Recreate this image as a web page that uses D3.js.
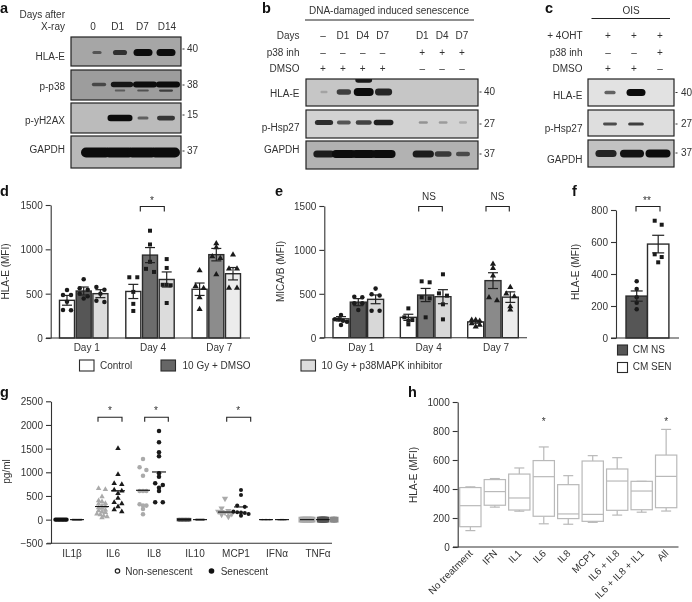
<!DOCTYPE html>
<html>
<head>
<meta charset="utf-8">
<script src="https://cdn.jsdelivr.net/npm/d3@7"></script>
<style>
  html, body { margin: 0; padding: 0; background: #fff; }
  svg { display: block; filter: blur(0.35px); }
  text { font-family: "Liberation Sans", Arial, sans-serif; font-size: 10px; fill: #333; }
</style>
</head>
<body>
<svg id="fig" width="692" height="602"></svg>
<script>
// western blots: band strength per lane, 0 = nothing visible
const blot_a_lanes = ["0", "D1", "D7", "D14"];
const blot_a_hla = [0.3, 0.65, 1, 1];
const blot_a_p38 = [0.4, 0.9, 1, 1];
const blot_a_p38_low = [0, 0.2, 0.3, 0.5];
const blot_a_h2ax = [0, 1, 0.3, 0.65];
const blot_a_gapdh = [1, 1, 1, 1];

const blot_b_days = ["–", "D1", "D4", "D7", "", "D1", "D4", "D7"];
const blot_b_inh = ["–", "–", "–", "–", "", "+", "+", "+"];
const blot_b_dmso = ["+", "+", "+", "+", "", "–", "–", "–"];
const blot_b_hla = [0.08, 0.6, 1, 0.8, 0, 0, 0, 0];
const blot_b_hla_top = [0, 0, 0.9, 0, 0, 0, 0, 0];
const blot_b_hsp = [0.75, 0.45, 0.6, 0.85, 0, 0.14, 0.12, 0.08];
const blot_b_gapdh = [0.85, 1, 1, 1, 0, 0.85, 0.6, 0.45];

const blot_c_oht = ["+", "+", "+"];
const blot_c_inh = ["–", "–", "+"];
const blot_c_dmso = ["+", "+", "–"];
const blot_c_hla = [0.4, 1, 0];
const blot_c_hsp = [0.55, 0.65, 0];
const blot_c_gapdh = [0.8, 0.95, 1];

// panel d
const days = ["Day 1", "Day 4", "Day 7"];
const treatments = ["Control", "10 Gy + DMSO", "10 Gy + p38MAPK inhibitor"];
const d_means = [[425, 530, 500], [525, 935, 660], [550, 940, 725]];
const d_sem = [[55, 45, 45], [80, 85, 85], [70, 70, 70]];
const d_points = [
  [[541, 485, 485, 410, 316, 312], [662, 545, 560, 500, 470, 445], [575, 545, 500, 405, 420]],
  [[685, 685, 520, 385, 305], [1210, 1055, 860, 745, 780], [890, 790, 600, 600, 595, 395]],
  [[760, 585, 560, 458, 325], [1020, 1065, 920, 900, 715], [940, 780, 780, 565, 565]]
];
const d_fill = [["#fff", "#565656", "#dcdcdc"], ["#fff", "#6c6c6c", "#dcdcdc"], ["#fff", "#8c8c8c", "#ececec"]];

// panel e
const e_means = [[215, 405, 437], [232, 486, 467], [180, 650, 462]];
const e_sem = [[25, 40, 50], [35, 75, 80], [15, 90, 60]];
const e_points = [
  [[258, 209, 209, 194, 182, 144], [467, 460, 391, 391, 315], [559, 494, 308, 308, 480]],
  [[334, 232, 201, 194, 152], [642, 631, 460, 448, 232], [722, 505, 479, 380, 209]],
  [[201, 201, 190, 163, 144, 125], [840, 790, 705, 458, 425], [575, 500, 470, 356, 318]]
];
const e_fill = [["#fff", "#565656", "#d8d8d8"], ["#fff", "#777", "#d8d8d8"], ["#fff", "#8a8a8a", "#ececec"]];

// panel f
const f_groups = ["CM NS", "CM SEN"];
const f_means = [262, 587];
const f_sem = [32, 55];
const f_points = [[354, 306, 254, 221, 179], [733, 708, 523, 506, 473]];

// panel g
const g_cats = ["IL1β", "IL6", "IL8", "IL10", "MCP1", "IFNα", "TNFα"];
const g_non = [
  [0, 0, 0, 0, 0, 0, 0, 0, 0],
  [662, 640, 486, 401, 380, 345, 330, 290, 280, 255, 240, 205, 190, 165, 150, 120, 105, 80, 65, 40],
  [1281, 1105, 1049, 929, 605, 605, 605, 324, 296, 296, 225, 113],
  [0, 0, 0, 0, 0, 0, 0, 0, 0],
  [443, 239, 185, 170, 165, 150, 140, 120, 105, 60],
  [0, 0, 0, 0, 0, 0, 0, 0],
  [0, 0, 0, 0, 0, 0, 0, 0, 0]
];
const g_sen = [
  [0, 0, 0, 0, 0, 0, 0, 0, 0],
  [1507, 957, 767, 746, 627, 605, 556, 451, 366, 338, 275, 211, 169],
  [1873, 1633, 1422, 1338, 978, 908, 767, 732, 676, 605, 366, 366],
  [0, 0, 0, 0, 0, 0, 0, 0],
  [627, 521, 296, 270, 169, 155, 150, 140, 120, 84],
  [0, 0, 0, 0, 0, 0, 0, 0],
  [0, 0, 0, 0, 0, 0, 0]
];
const g_non_mid = [0, 277, 620, 0, 160, 0, 0];
const g_sen_mid = [0, 610, 1007, 0, 268, 0, 0];
const tnf_extra = [0, 0, 0];

// panel h
const h_cats = ["No treatment", "IFN", "IL1", "IL6", "IL8", "MCP1", "IL6 + IL8", "IL6 + IL8 + IL1", "All"];
const h_low = [113, 275, 247, 160, 157, 170, 220, 240, 248];
const h_q1 = [140, 288, 255, 212, 196, 177, 253, 257, 271];
const h_med = [285, 382, 338, 485, 228, 225, 455, 386, 487];
const h_q3 = [410, 465, 503, 596, 430, 593, 538, 453, 634];
const h_high = [415, 472, 545, 690, 492, 630, 616, 453, 811];

const ink = "#333";
const svg = d3.select("#fig");

// blur used for the blot bands
svg.append("defs").append("filter")
  .attr("id", "soft")
  .attr("x", "-30%").attr("y", "-80%").attr("width", "160%").attr("height", "260%")
  .append("feGaussianBlur").attr("stdDev", 1);

function label(x, y, str, anchor, size, weight) {
  return svg.append("text")
    .attr("x", x).attr("y", y)
    .attr("text-anchor", anchor || "start")
    .style("font-size", (size || 10) + "px")
    .style("font-weight", weight || "normal")
    .text(str);
}

// panel letters
[["a", 0, 13], ["b", 262, 13], ["c", 545, 13], ["d", 0, 196], ["e", 275, 196], ["f", 572, 196], ["g", 0, 397], ["h", 408, 397]]
  .forEach(l => label(l[1], l[2], l[0], "start", 14.5, "bold").style("fill", "#111"));

let clip_id = 0;
// one blot strip, rows = [{vals, cy, w0, w1, h0, h1}]
function blot(x0, x1, y0, y1, bg, laneX, rows, name, nameY, nameX, kda, kdaY, kdaX) {
  const id = "clip" + (clip_id++);
  svg.select("defs").append("clipPath").attr("id", id)
    .append("rect").attr("x", x0).attr("y", y0).attr("width", x1 - x0).attr("height", y1 - y0);
  svg.append("rect").attr("x", x0).attr("y", y0).attr("width", x1 - x0).attr("height", y1 - y0).attr("fill", bg);
  const g = svg.append("g").attr("clip-path", "url(#" + id + ")");
  const op = d3.scaleLinear().domain([0, 0.2, 1]).range([0, 0.45, 1]);
  rows.forEach(r => {
    const bw = d3.scaleLinear().domain([0, 1]).range([r.w0, r.w1]);
    const bh = d3.scaleLinear().domain([0, 1]).range([r.h0, r.h1]);
    const lanes = r.vals.map((v, i) => ({v: v, i: i})).filter(d => d.v > 0);
    g.selectAll(null).data(lanes).enter().append("rect")
      .attr("x", d => laneX(d.i) - bw(d.v) / 2 + (r.dx || 0))
      .attr("y", d => r.cy - bh(d.v) / 2)
      .attr("width", d => bw(d.v))
      .attr("height", d => bh(d.v))
      .attr("rx", d => bh(d.v) / 2)
      .attr("fill", "#0c0c0c")
      .attr("opacity", d => op(d.v))
      .attr("filter", "url(#soft)");
  });
  svg.append("rect").attr("x", x0).attr("y", y0).attr("width", x1 - x0).attr("height", y1 - y0)
    .attr("fill", "none").attr("stroke", "#222").attr("stroke-width", 1.2);
  label(nameX, nameY, name, "end");
  svg.append("line").attr("x1", x1 + 1.5).attr("x2", x1 + 3.5).attr("y1", kdaY - 3).attr("y2", kdaY - 3).attr("stroke", ink);
  label(kdaX, kdaY, kda);
}

// --- a
const lane_a = d3.scalePoint().domain(d3.range(4)).range([97, 166]);
const lane_a_text = d3.scalePoint().domain(blot_a_lanes).range([93, 167]);
label(65, 17.5, "Days after", "end");
label(65, 30, "X-ray", "end");
blot_a_lanes.forEach(d => label(lane_a_text(d), 30, d, "middle"));
blot(71, 181, 37, 66, "#a6a6a6", lane_a, [{vals: blot_a_hla, cy: 52.5, w0: 5, w1: 19, h0: 1.5, h1: 7}], "HLA-E", 60, 65, "40", 52, 187);
blot(71, 181, 70, 100, "#9d9d9d", lane_a, [
  {vals: blot_a_p38, cy: 84.5, w0: 8, w1: 24, h0: 2, h1: 6, dx: 2},
  {vals: blot_a_p38_low, cy: 90.5, w0: 8, w1: 20, h0: 1.5, h1: 3}
], "p-p38", 90, 65, "38", 88, 187);
blot(71, 181, 103, 133, "#bbb", lane_a, [{vals: blot_a_h2ax, cy: 118, w0: 5, w1: 25, h0: 1.5, h1: 6.5}], "p-yH2AX", 124, 65, "15", 118, 187);
blot(71, 181, 136, 168, "#b8b8b8", lane_a, [{vals: blot_a_gapdh, cy: 152.5, w0: 10, w1: 30, h0: 3, h1: 10, dx: -1}], "GAPDH", 153, 65, "37", 154, 187);

// --- b
const lane_b = d3.scalePoint().domain(d3.range(8)).range([323, 462]);
label(389, 14, "DNA-damaged induced senescence", "middle");
svg.append("line").attr("x1", 305).attr("x2", 474).attr("y1", 20).attr("y2", 20).attr("stroke", "#222").attr("stroke-width", 1.2);
[["Days", blot_b_days, 38.5], ["p38 inh", blot_b_inh, 55.5], ["DMSO", blot_b_dmso, 71.5]].forEach(r => {
  label(299.5, r[2], r[0], "end");
  r[1].forEach((t, i) => label(lane_b(i), r[2], t, "middle"));
});
blot(306, 478, 79, 106, "#c6c6c6", lane_b, [
  {vals: blot_b_hla, cy: 92, w0: 6, w1: 20, h0: 2, h1: 8, dx: 1},
  {vals: blot_b_hla_top, cy: 80, w0: 6, w1: 18, h0: 2, h1: 6, dx: 1}
], "HLA-E", 97, 299.5, "40", 95, 484);
blot(306, 478, 110, 138, "#d2d2d2", lane_b, [{vals: blot_b_hsp, cy: 122.5, w0: 7, w1: 22, h0: 2, h1: 6, dx: 1}], "p-Hsp27", 131, 299.5, "27", 127, 484);
blot(306, 478, 141, 169, "#b2b2b2", lane_b, [{vals: blot_b_gapdh, cy: 154, w0: 6, w1: 24, h0: 2, h1: 8, dx: 1}], "GAPDH", 153, 299.5, "37", 157, 484);

// --- c
const lane_c = d3.scalePoint().domain(d3.range(3)).range([608, 660]);
label(631, 14, "OIS", "middle");
svg.append("line").attr("x1", 591.5).attr("x2", 670).attr("y1", 18.5).attr("y2", 18.5).attr("stroke", "#222").attr("stroke-width", 1.2);
[["+ 4OHT", blot_c_oht, 38.5], ["p38 inh", blot_c_inh, 55.5], ["DMSO", blot_c_dmso, 71.5]].forEach(r => {
  label(582.5, r[2], r[0], "end");
  r[1].forEach((t, i) => label(lane_c(i), r[2], t, "middle"));
});
blot(588, 674, 79, 106, "#e2e2e2", lane_c, [{vals: blot_c_hla, cy: 92.5, w0: 6, w1: 19, h0: 1.5, h1: 7, dx: 2}], "HLA-E", 98.5, 582.5, "40", 95.5, 681);
blot(588, 674, 110, 136, "#dedede", lane_c, [{vals: blot_c_hsp, cy: 124, w0: 4, w1: 22, h0: 1.5, h1: 4, dx: 2}], "p-Hsp27", 131.5, 582.5, "27", 127, 681);
blot(588, 674, 140, 167, "#c2c2c2", lane_c, [{vals: blot_c_gapdh, cy: 153.5, w0: 6, w1: 25, h0: 3, h1: 8, dx: -2}], "GAPDH", 162.5, 582.5, "37", 156, 681);

// --- shared chart bits
function yAxis(x, y, ticks) {
  const g = svg.append("g").attr("transform", "translate(" + x + ",0)")
    .call(d3.axisLeft(y).tickValues(ticks).tickSize(5).tickSizeOuter(0).tickFormat(d3.format("d")));
  g.select(".domain").attr("stroke", ink).attr("stroke-width", 1.1);
  g.selectAll(".tick line").attr("stroke", ink).attr("stroke-width", 1.1);
  g.selectAll(".tick text").attr("x", -8).attr("dy", "0.34em").style("font-family", null).style("font-size", "10px");
  g.attr("font-family", null).attr("font-size", null);
  return g;
}
function xLine(x0, x1, y) {
  svg.append("line").attr("x1", x0).attr("x2", x1).attr("y1", y).attr("y2", y).attr("stroke", ink).attr("stroke-width", 1.1);
}
function yTitle(x, y, str) {
  label(0, 0, str, "middle").attr("transform", "translate(" + x + "," + y + ") rotate(-90)");
}
function bracket(x0, x1, top, leg) {
  svg.append("path")
    .attr("d", "M" + x0 + "," + (top + leg) + "V" + top + "H" + x1 + "V" + (top + leg))
    .attr("fill", "none").attr("stroke", "#222").attr("stroke-width", 1.1);
}
// prism style strip: points of about equal value sit side by side
function strip(vals, thr, h) {
  const sorted = vals.slice().sort((a, b) => b - a);
  const out = [];
  let i = 0;
  while (i < sorted.length) {
    let j = i;
    while (j + 1 < sorted.length && sorted[i] - sorted[j + 1] <= thr) j++;
    const n = j - i + 1;
    const s = n === 2 ? 2 * h : h;
    for (let k = 0; k < n; k++) out.push({v: sorted[i + k], off: (k - (n - 1) / 2) * s});
    i = j + 1;
  }
  return out;
}
function marks(items, x, y, type, size, fill) {
  const sym = d3.symbol().type(type).size(size);
  svg.append("g").selectAll("path").data(items).enter().append("path")
    .attr("d", sym)
    .attr("fill", fill)
    .attr("transform", d => "translate(" + (x + d.off) + "," + y(d.v) + ")");
}
function errorBar(x, y, mean, sem, cap) {
  const g = svg.append("g").attr("stroke", "#222").attr("stroke-width", 1.2);
  g.append("line").attr("x1", x).attr("x2", x).attr("y1", y(mean - sem)).attr("y2", y(mean + sem));
  [mean - sem, mean + sem].forEach(v => {
    g.append("line").attr("x1", x - cap).attr("x2", x + cap).attr("y1", y(v)).attr("y2", y(v));
  });
}

const symbols_by_day = [d3.symbolCircle, d3.symbolSquare, d3.symbolTriangle];
// MCP1 non-senescent points point downwards
const triangleDown = {
  draw(ctx, size) {
    const r = Math.sqrt(size / 1.3);
    ctx.moveTo(-r, -r * 0.6);
    ctx.lineTo(r, -r * 0.6);
    ctx.lineTo(0, r * 1.1);
    ctx.closePath();
  }
};

function groupedBars(centers, step, bw, y, means, sem, points, fills) {
  days.forEach((day, i) => {
    treatments.forEach((t, j) => {
      const x = centers(day) + (j - 1) * step;
      svg.append("rect")
        .attr("x", x - bw / 2).attr("width", bw)
        .attr("y", y(means[i][j])).attr("height", y(0) - y(means[i][j]))
        .attr("fill", fills[i][j]).attr("stroke", "#2b2b2b").attr("stroke-width", 1.4);
      marks(strip(points[i][j], 35, 4), x, y, symbols_by_day[i], 16, "#1a1a1a");
      errorBar(x, y, means[i][j], sem[i][j], 5);
    });
  });
}

// --- d
const d_x = d3.scalePoint().domain(days).range([83.7, 216.3]);
const d_y = d3.scaleLinear().domain([0, 1500]).range([338, 205]);
groupedBars(d_x, 16.7, 15, d_y, d_means, d_sem, d_points, d_fill);
yAxis(50.7, d_y, [0, 500, 1000, 1500]);
xLine(46, 250, 338);
yTitle(9, 271.5, "HLA-E (MFI)");
days.forEach(d => label(d_x(d) + 3, 351, d, "middle"));
bracket(140.3, 164.3, 206.5, 5);
label(152, 204, "*", "middle");

// --- e
const e_x = d3.scalePoint().domain(days).range([358.3, 493]);
const e_y = d3.scaleLinear().domain([0, 1500]).range([337.7, 206]);
groupedBars(e_x, 17.3, 16, e_y, e_means, e_sem, e_points, e_fill);
yAxis(324.3, e_y, [0, 500, 1000, 1500]);
xLine(320, 527, 337.7);
yTitle(284, 271.5, "MICA/B (MFI)");
days.forEach(d => label(e_x(d) + 3, 351, d, "middle"));
bracket(418.7, 442.3, 206.5, 5);
bracket(486, 509.3, 206.5, 5);
label(429, 200, "NS", "middle");
label(497.5, 200, "NS", "middle");

// legend d/e
[[79.5, "#fff", 100, treatments[0]], [161, "#666", 182.5, treatments[1]], [301, "#dcdcdc", 321.5, treatments[2]]].forEach(l => {
  svg.append("rect").attr("x", l[0]).attr("y", 360).attr("width", 14.5).attr("height", 11)
    .attr("fill", l[1]).attr("stroke", "#2b2b2b").attr("stroke-width", 1.1);
  label(l[2], 369, l[3]);
});

// --- f
const f_x = d3.scalePoint().domain(f_groups).range([636.7, 658.2]);
const f_y = d3.scaleLinear().domain([0, 800]).range([338, 210]);
const f_fill = ["#565656", "#fff"];
const f_sym = [d3.symbolCircle, d3.symbolSquare];
f_groups.forEach((g, i) => {
  svg.append("rect")
    .attr("x", f_x(g) - 10.7).attr("width", 21.4)
    .attr("y", f_y(f_means[i])).attr("height", f_y(0) - f_y(f_means[i]))
    .attr("fill", f_fill[i]).attr("stroke", "#2b2b2b").attr("stroke-width", 1.4);
  marks(strip(f_points[i], 30, 3.5), f_x(g), f_y, f_sym[i], 16, "#1a1a1a");
  errorBar(f_x(g), f_y, f_means[i], f_sem[i], 6);
});
yAxis(616, f_y, [0, 200, 400, 600, 800]);
xLine(611, 679, 338);
yTitle(579, 272, "HLA-E (MFI)");
bracket(636, 660, 206.5, 5);
label(647, 204, "**", "middle");
f_groups.forEach((g, i) => {
  svg.append("rect").attr("x", 617.5).attr("y", 345 + i * 17.5).attr("width", 10).attr("height", 10)
    .attr("fill", f_fill[i]).attr("stroke", "#2b2b2b").attr("stroke-width", 1.1);
  label(632.7, 353 + i * 17.2, g);
});

// --- g
const g_x = d3.scalePoint().domain(g_cats).range([69, 315]);
const g_y = d3.scaleLinear().domain([-500, 2500]).range([543.3, 401.3]);
const g_sym_non = [d3.symbolCircle, d3.symbolTriangle, d3.symbolCircle, d3.symbolSquare, triangleDown, d3.symbolSquare, d3.symbolSquare];
const g_sym_sen = [d3.symbolCircle, d3.symbolTriangle, d3.symbolCircle, d3.symbolSquare, d3.symbolCircle, d3.symbolSquare, d3.symbolSquare];
const g_non_fill = ["#111", "#aaa", "#aaa", "#3a3a3a", "#aaa", "#333", "#aaa"];
const g_sen_fill = ["#222", "#1a1a1a", "#1a1a1a", "#333", "#1a1a1a", "#222", "#555"];
const g_size = [14, 13, 16, 12, 13, 2, 34];
g_cats.forEach((c, i) => {
  const xn = g_x(c) - 8, xs = g_x(c) + 8;
  const flat = g_non_mid[i] === 0;
  marks(strip(g_non[i], 62, flat ? 1.4 : 3.4), xn, g_y, g_sym_non[i], g_size[i], g_non_fill[i]);
  marks(strip(g_sen[i], 62, flat ? 1.1 : 3.8), xs, g_y, g_sym_sen[i], flat ? Math.min(g_size[i], i === 6 ? 34 : 3) : g_size[i], g_sen_fill[i]);
  [[xn, g_non_mid[i]], [xs, g_sen_mid[i]]].forEach(m => {
    svg.append("line").attr("x1", m[0] - 7).attr("x2", m[0] + 7)
      .attr("y1", g_y(m[1])).attr("y2", g_y(m[1]))
      .attr("stroke", "#111").attr("stroke-width", 1.1);
  });
  label(g_x(c) + 3, 557, c, "middle");
});
marks(tnf_extra.map((v, i) => ({v: v, off: (i - 1) * 1.6})), g_x("TNFα") + 19, g_y, d3.symbolSquare, 34, "#8a8a8a");
yAxis(51, g_y, [-500, 0, 500, 1000, 1500, 2000, 2500]);
xLine(47, 332, 543.3);
yTitle(10, 471.5, "pg/ml");
[[98, 122, 110], [144.7, 168.3, 156], [226.7, 250.7, 238.3]].forEach(b => {
  bracket(b[0], b[1], 417.3, 4.5);
  label(b[2], 414, "*", "middle");
});
svg.append("circle").attr("cx", 117.5).attr("cy", 571).attr("r", 2.2).attr("fill", "#fff").attr("stroke", "#222").attr("stroke-width", 1.2);
label(125.3, 574.5, "Non-senescent");
svg.append("circle").attr("cx", 211.5).attr("cy", 571).attr("r", 2.8).attr("fill", "#111");
label(220.7, 574.5, "Senescent");

// --- h
const h_x = d3.scaleBand().domain(h_cats).range([458, 678.5]).paddingInner(0.13).paddingOuter(0.07);
const h_y = d3.scaleLinear().domain([0, 1000]).range([547, 402]);
const box_ink = "#b9b9b9";
h_cats.forEach((c, i) => {
  const x = h_x(c), w = h_x.bandwidth(), mid = x + w / 2;
  const g = svg.append("g").attr("stroke", box_ink).attr("stroke-width", 1.2).attr("fill", "none");
  [[h_low[i], h_q1[i]], [h_q3[i], h_high[i]]].forEach(p => {
    g.append("line").attr("x1", mid).attr("x2", mid).attr("y1", h_y(p[0])).attr("y2", h_y(p[1]));
  });
  [h_low[i], h_high[i]].forEach(v => {
    g.append("line").attr("x1", mid - 5).attr("x2", mid + 5).attr("y1", h_y(v)).attr("y2", h_y(v));
  });
  g.append("rect").attr("x", x).attr("width", w).attr("y", h_y(h_q3[i])).attr("height", h_y(h_q1[i]) - h_y(h_q3[i])).attr("fill", "#fff");
  g.append("line").attr("x1", x).attr("x2", x + w).attr("y1", h_y(h_med[i])).attr("y2", h_y(h_med[i]));
  label(0, 0, c, "end").attr("transform", "translate(" + (mid + 3) + ",554) rotate(-45)");
});
yAxis(457.7, h_y, [0, 200, 400, 600, 800, 1000]);
xLine(453, 678.5, 547);
yTitle(416.5, 475, "HLA-E (MFI)");
label(h_x("IL6") + h_x.bandwidth() / 2, 425, "*", "middle");
label(h_x("All") + h_x.bandwidth() / 2, 425, "*", "middle");
</script>
</body>
</html>
